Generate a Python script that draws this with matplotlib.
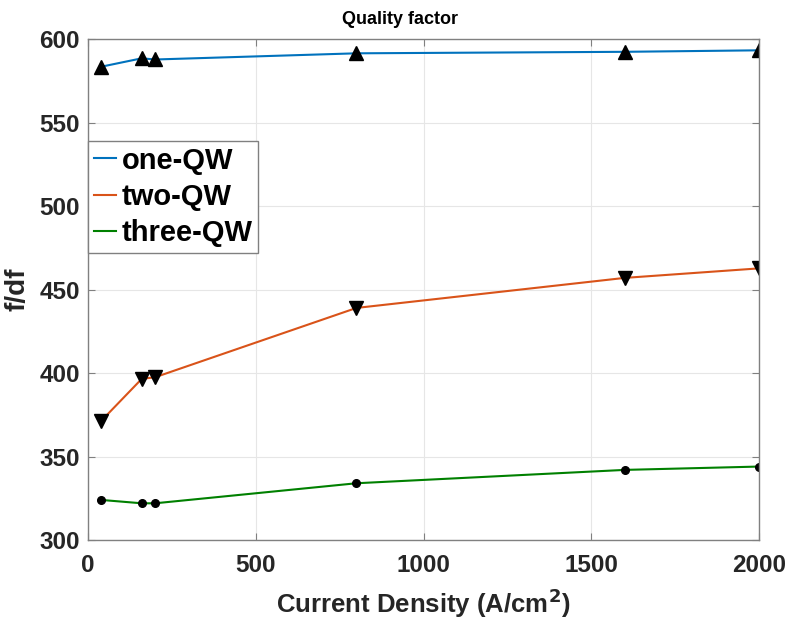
import numpy as np
import matplotlib.pyplot as plt

plt.rcParams['font.family'] = ['Liberation Sans', 'DejaVu Sans']
plt.rcParams['font.weight'] = 'bold'

# data
current = [40, 160, 200, 800, 1600, 2000]
one_qw = [583.5, 588.5, 587.8, 591.5, 592.4, 593.3]
two_qw = [371.5, 396.5, 397.5, 439, 457, 462.7]
three_qw = [324, 322, 322, 334, 342, 344]

fig = plt.figure(figsize=(7.88, 6.21), dpi=100)
ax = fig.add_axes([0.1117, 0.1304, 0.8515, 0.8066])

ax.plot(current, one_qw, color='#0072BD', lw=1.5, label='one-QW')
ax.plot(current, two_qw, color='#D95319', lw=1.5, label='two-QW')
ax.plot(current, three_qw, color='#008000', lw=1.5, label='three-QW')
ax.plot(current, one_qw, '^', color='black', ms=10, ls='none')
ax.plot(current, two_qw, 'v', color='black', ms=10, ls='none')
ax.plot(current, three_qw, 'o', color='black', ms=5.5, ls='none')

ax.set_xlim(0, 2000)
ax.set_ylim(300, 600)
ax.set_xticks([0, 500, 1000, 1500, 2000])
ax.set_yticks([300, 350, 400, 450, 500, 550, 600])
ax.grid(True, color='#e6e6e6', lw=0.8)
ax.set_axisbelow(True)
for s in ax.spines.values():
    s.set_color('#808080')
    s.set_linewidth(1.0)
ax.tick_params(direction='in', length=5, color='#808080', labelsize=17.5,
               top=True, right=True, labelcolor='#262626')
ax.tick_params(axis='x', pad=10)
ax.tick_params(axis='y', pad=6)

ax.set_xlabel('Current Density (A/cm$^{\\mathbf{2}}$)', fontsize=18.5, fontweight='bold',
              color='#262626', labelpad=7)
ax.set_ylabel('f/df', fontsize=20, fontweight='bold', color='#262626', labelpad=6)
ax.set_title('Quality factor', fontsize=13, fontweight='bold', pad=11, x=0.465)

leg = ax.legend(loc='upper left', bbox_to_anchor=(0.0, 0.797),
                handlelength=0.75, handletextpad=0.2, borderpad=0.2,
                labelspacing=0.28, borderaxespad=0, fancybox=False,
                framealpha=1, edgecolor='#808080', prop={'weight': 'bold', 'size': 21})
leg.get_frame().set_linewidth(1.0)

fig.savefig('out.png', dpi=100)
